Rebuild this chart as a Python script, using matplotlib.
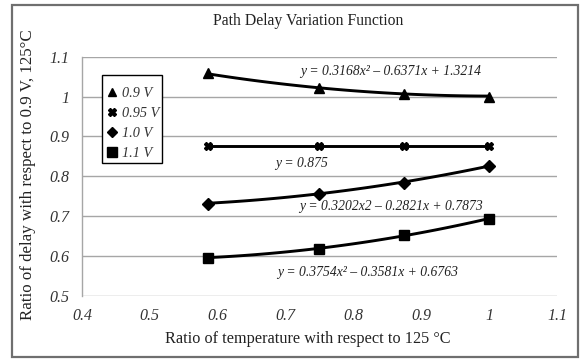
import numpy as np
import matplotlib
matplotlib.use("Agg")
import matplotlib.pyplot as plt
from matplotlib.patches import Rectangle

# Data
temp_ratio = [0.585, 0.749, 0.874, 1.0]
series_names = ["0.9 V", "0.95 V", "1.0 V", "1.1 V"]
v090 = [1.058, 1.021, 1.007, 1.000]
v095 = [0.875, 0.875, 0.875, 0.875]
v100 = [0.731, 0.756, 0.784, 0.826]
v110 = [0.595, 0.617, 0.651, 0.693]
# displayed trendline coefficients (a, b, c) for y = a x^2 + b x + c
trend_090 = [0.3168, -0.6371, 1.3214]
trend_095 = [0.0, 0.0, 0.875]
trend_100 = [0.3202, -0.2821, 0.7873]
trend_110 = [0.3754, -0.3581, 0.6763]
trend_labels = ["y = 0.3168x² – 0.6371x + 1.3214", "y = 0.875",
                "y = 0.3202x2 – 0.2821x + 0.7873", "y = 0.3754x² – 0.3581x + 0.6763"]
xticks = [0.4, 0.5, 0.6, 0.7, 0.8, 0.9, 1.0, 1.1]
xticklabels = ["0.4", "0.5", "0.6", "0.7", "0.8", "0.9", "1", "1.1"]
yticks = [0.5, 0.6, 0.7, 0.8, 0.9, 1.0, 1.1]
yticklabels = ["0.5", "0.6", "0.7", "0.8", "0.9", "1", "1.1"]

serif = "Liberation Serif"
plt.rcParams['font.family'] = [serif, 'DejaVu Serif']

fig = plt.figure(figsize=(5.82, 3.62), dpi=100)
fig.patches.append(Rectangle((12/582, 5/362), 566/582, 352/362, transform=fig.transFigure,
                             fill=False, edgecolor="#6f6f6f", linewidth=1.6))

ax = fig.add_axes([82/582, 1-295.6/362, 475/582, (295.6-56.7)/362])
ax.set_xlim(0.4, 1.1)
ax.set_ylim(0.5, 1.1)
ax.set_xticks(xticks)
ax.set_xticklabels(xticklabels, fontstyle="italic", fontsize=11.5, color="#333333")
ax.set_yticks(yticks)
ax.set_yticklabels(yticklabels, fontstyle="italic", fontsize=11.5, color="#333333")
ax.tick_params(axis="x", length=0, pad=9)
ax.tick_params(axis="y", length=0, pad=9)
ax.grid(axis="y", color="#a6a6a6", linewidth=1.0)
ax.set_axisbelow(True)
for s in ["top", "right", "bottom"]:
    ax.spines[s].set_visible(False)
ax.spines["left"].set_color("#a6a6a6")
ax.spines["left"].set_linewidth(1.0)

markers = ["^", "X", "D", "s"]
msizes = [7, 6, 6, 7.5]
all_y = [v090, v095, v100, v110]
trends = [trend_090, trend_095, trend_100, trend_110]
xx = np.linspace(temp_ratio[0], temp_ratio[-1], 100)
handles = []
for name, ys, tr, m, ms in zip(series_names, all_y, trends, markers, msizes):
    ax.plot(xx, np.polyval(tr, xx), color="black", linewidth=2.1, zorder=3)
    h, = ax.plot(temp_ratio, ys, linestyle="none", marker=m, markersize=ms,
                 color="black", label=name, zorder=4)
    handles.append(h)

axh = 295.6 - 56.7
# legend frame drawn as a separate box
ax.add_patch(Rectangle((102/582, 1-163/362), 60/582, 88/362, transform=fig.transFigure,
                       facecolor="white", edgecolor="black", linewidth=1.0, zorder=5, clip_on=False))
leg = ax.legend(handles=handles, loc="upper left", bbox_to_anchor=((108-82)/475, (295.6-87)/axh),
                borderaxespad=0, borderpad=0, markerscale=0.9,
                prop={"family": serif, "style": "italic", "size": 10.3}, frameon=False,
                handlelength=0.6, handletextpad=0.38, labelspacing=0.48, labelcolor="#333333")
leg.set_zorder(6)

ann_pos = [(0.855, 1.0616), (0.723, 0.833), (0.855, 0.7226), (0.821, 0.559)]
for lbl, (px, py) in zip(trend_labels, ann_pos):
    ax.text(px, py, lbl, fontstyle="italic", fontsize=9.8, ha="center", va="center", color="#222222")

fig.text(308/582, 1-21/362, "Path Delay Variation Function", ha="center", va="center",
         fontsize=11.3, color="#222222")
fig.text(28/582, 1-175/362, "Ratio of delay with respect to 0.9 V, 125°C", ha="center", va="center",
         rotation=90, fontsize=12.2, color="#222222")
fig.text(308/582, 1-339/362, "Ratio of temperature with respect to 125 °C", ha="center", va="center",
         fontsize=11.7, color="#222222")

fig.savefig("out.png", dpi=100)
